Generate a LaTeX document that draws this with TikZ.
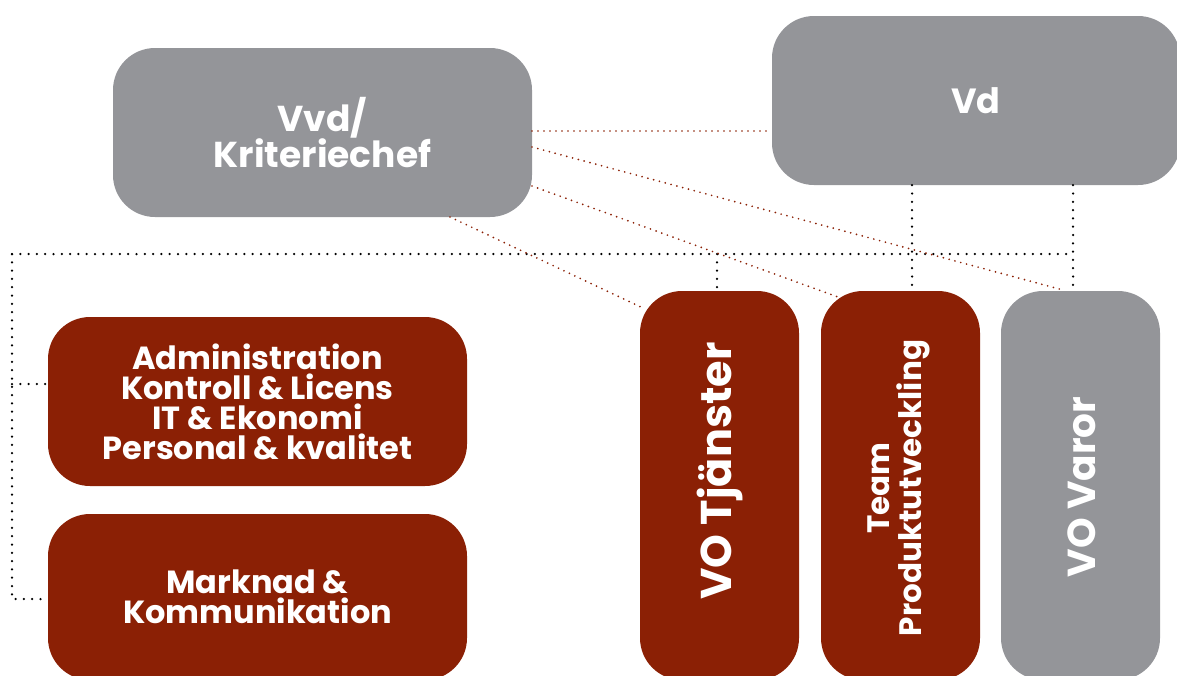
\documentclass[tikz,border=0pt]{standalone}
\usepackage{fontspec}
\setmainfont{Poppins}
\definecolor{rojo}{RGB}{139,32,5}
\definecolor{gris}{RGB}{148,149,153}
\begin{document}
\begin{tikzpicture}[x=1pt,y=-1pt,
  caja/.style={rounded corners=42pt, inner sep=0pt, text=white, align=center,
    font=\bfseries\fontsize{32}{30}\selectfont},
  texto/.style={text=white, align=center, inner sep=0pt, font=\bfseries\fontsize{31}{32}\selectfont},
  puntos/.style={line width=2.5pt, dash pattern=on 0pt off 8.3pt, line cap=round},
  puntosrojos/.style={rojo, line width=1.9pt, dash pattern=on 0pt off 6pt, line cap=round}]
\useasboundingbox (0,0) rectangle (1177,675);
% Ledning
\node[caja, fill=gris, minimum width=419pt, minimum height=169pt,
  font=\bfseries\fontsize{36}{29}\selectfont] (vvd) at (322.5,132.5) {Vvd/\\Kriteriechef};
\node[caja, fill=gris, minimum width=408pt, minimum height=169pt,
  font=\bfseries\fontsize{35}{31}\selectfont] (vd) at (976,100.5) {Vd};
% Stab
\node[caja, fill=rojo, minimum width=419pt, minimum height=169pt] (admin) at (257.5,401.5)
  {Administration\\Kontroll \& Licens\\IT \& Ekonomi\\Personal \& kvalitet};
\node[caja, fill=rojo, minimum width=419pt, minimum height=166pt] (marknad) at (257.5,597)
  {Marknad \&\\Kommunikation};
% Verksamhetsomraden
\node[caja, fill=rojo, minimum width=159pt, minimum height=389pt] (tjanster) at (719.5,485.5) {};
\node[caja, fill=rojo, minimum width=159pt, minimum height=389pt] (team) at (900.5,485.5) {};
\node[caja, fill=gris, minimum width=159pt, minimum height=389pt] (varor) at (1080.5,485.5) {};
\node[texto, rotate=90, font=\bfseries\fontsize{43}{44}\selectfont] (tjansterText) at (720,471) {VO Tjänster};
\node[texto, rotate=90] (teamText) at (899,488) {Team\\Produktutveckling};
\node[texto, rotate=90, font=\bfseries\fontsize{39}{40}\selectfont] (varorText) at (1082,487) {VO Varor};
% Punkter
\coordinate (hl) at (12,254);
\coordinate (hr) at (1073,254);
\coordinate (hb) at (12,599);
\coordinate (ha) at (12,384);
\coordinate (ht) at (717,254);
\draw[puntos] (hl) -- (hr);
\draw[puntos] (hl) -- (hb) -- (hb -| marknad.west);
\draw[puntos] (ha) -- (ha -| admin.west);
\draw[puntos] (ht) -- (ht |- tjanster.north);
\draw[puntos] (vd.south -| 912,0) -- (team.north -| 912,0);
\draw[puntos] (vd.south -| 1073,0) -- (varor.north -| 1073,0);
% Roda linjer
\coordinate (r1) at (532,131);
\coordinate (r2) at (532,147);
\coordinate (r3) at (532,186);
\coordinate (r4) at (450,217);
\coordinate (e2) at (1063,290);
\coordinate (e3) at (838,297);
\coordinate (e4) at (645,309);
\draw[puntosrojos] (r1) -- (r1 -| vd.west);
\draw[puntosrojos] (r2) -- (e2);
\draw[puntosrojos] (r3) -- (e3);
\draw[puntosrojos] (r4) -- (e4);
\end{tikzpicture}
\end{document}
